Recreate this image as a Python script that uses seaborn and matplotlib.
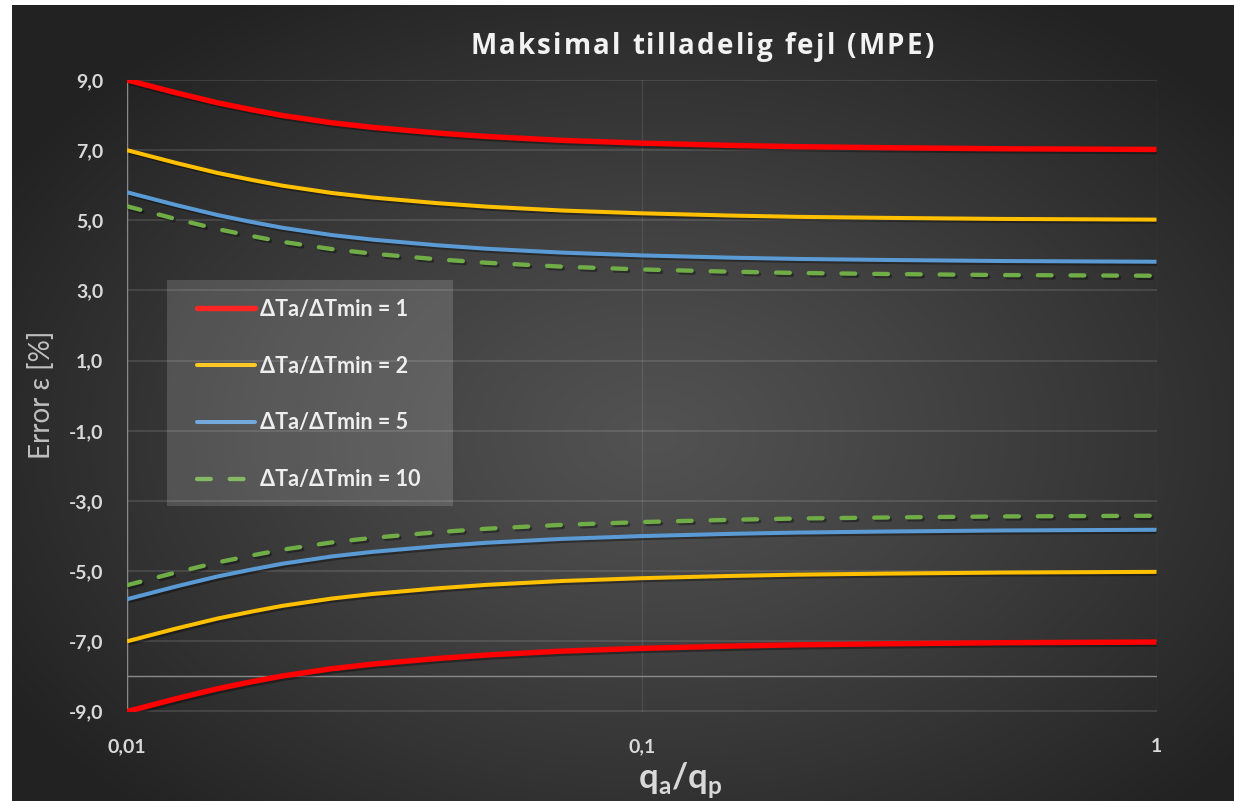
import numpy as np
import pandas as pd
import matplotlib
matplotlib.use("Agg")
import matplotlib.pyplot as plt
import matplotlib.patheffects as pe
from matplotlib.lines import Line2D
from matplotlib.patches import Rectangle
from matplotlib.ticker import FixedLocator, FixedFormatter, NullLocator
import seaborn as sns

# ---------------- data ----------------
q_ratio = [0.01, 0.0125, 0.015, 0.0175, 0.02, 0.025, 0.03, 0.04, 0.05, 0.06,
           0.07, 0.08, 0.1, 0.15, 0.2, 0.3, 0.5, 1.0]
mpe_ratio1 = [9.0, 8.63, 8.35, 8.15, 7.99, 7.78, 7.65, 7.49, 7.39, 7.33,
              7.28, 7.25, 7.20, 7.135, 7.10, 7.07, 7.04, 7.02]
mpe_ratio2 = [7.0, 6.63, 6.35, 6.15, 5.99, 5.78, 5.65, 5.49, 5.39, 5.33,
              5.28, 5.25, 5.20, 5.135, 5.10, 5.07, 5.04, 5.02]
mpe_ratio5 = [5.8, 5.43, 5.15, 4.95, 4.79, 4.58, 4.45, 4.29, 4.19, 4.13,
              4.08, 4.05, 4.00, 3.935, 3.90, 3.87, 3.84, 3.82]
mpe_ratio10 = [5.4, 5.03, 4.75, 4.55, 4.39, 4.18, 4.05, 3.89, 3.79, 3.73,
               3.68, 3.65, 3.60, 3.535, 3.50, 3.47, 3.44, 3.42]
series_labels = ["ΔTa/ΔTmin = 1", "ΔTa/ΔTmin = 2", "ΔTa/ΔTmin = 5", "ΔTa/ΔTmin = 10"]
y_ticks = [9, 7, 5, 3, 1, -1, -3, -5, -7, -9]
y_ticklabels = ["9,0", "7,0", "5,0", "3,0", "1,0", "-1,0", "-3,0", "-5,0", "-7,0", "-9,0"]
x_ticks = [0.01, 0.1, 1]
x_ticklabels = ["0,01", "0,1", "1"]
title = "Maksimal tilladelig fejl (MPE)"
ylabel = "Error ε [%]"
xlabel = r"q$_\mathregular{a}$/q$_\mathregular{p}$"

colors = ["#FF0000", "#FFC000", "#5B9BD5", "#70AD47"]
widths = [3.9, 2.9, 2.9, 3.1]
styles = ["-", "-", "-", (0, (3.2, 4.4))]

sns.set_theme(style="dark")
plt.rcParams["font.family"] = ["Lato", "DejaVu Sans"]

W, H = 1234, 801
fig = plt.figure(figsize=(W / 100, H / 100), dpi=100)
fig.patch.set_facecolor("white")

# background radial gradient
bg = fig.add_axes([12 / W, 0, 1 - 12 / W, 1 - 5 / H], zorder=-10)
gh, gw = 796, 1222
yy, xx = np.mgrid[0:gh, 0:gw]
cx, cy = 640, 430
r = np.sqrt(((xx - cx) / (gw * 0.62)) ** 2 + ((yy - cy) / (gh * 0.65)) ** 2)
r = np.clip(r, 0, 1) ** 1.15
val = (82 - (82 - 34) * r) / 255.0
img = np.dstack([val, val, val])
bg.imshow(img, aspect="auto", interpolation="bilinear", extent=[0, 1, 0, 1])
bg.set_axis_off()

ax = fig.add_axes([127 / W, 1 - 711.5 / H, (1156.5 - 127) / W, (711.5 - 80) / H])
ax.set_facecolor("none")

shadow = [pe.SimpleLineShadow(offset=(1.5, -1.5), shadow_color="black", alpha=0.35), pe.Normal()]

all_series = [mpe_ratio1, mpe_ratio2, mpe_ratio5, mpe_ratio10]
handles = []
for vals, c, lw, ls, lab in zip(all_series, colors, widths, styles, series_labels):
    df = pd.DataFrame({"q": q_ratio, "up": vals, "low": [-v for v in vals]})
    for col in ["up", "low"]:
        sns.lineplot(data=df, x="q", y=col, ax=ax, color=c, linewidth=lw,
                     linestyle=ls, dash_capstyle="round", solid_capstyle="butt",
                     solid_joinstyle="round", path_effects=shadow, zorder=5, legend=False)
    handles.append(Line2D([], [], color=c, linewidth=lw, linestyle=ls,
                          dash_capstyle="round", label=lab))

ax.set_xscale("log")
ax.set_xlim(0.01, 1)
ax.set_ylim(-9, 9)

ax.xaxis.set_major_locator(FixedLocator(x_ticks))
ax.xaxis.set_major_formatter(FixedFormatter(x_ticklabels))
ax.xaxis.set_minor_locator(NullLocator())
ax.yaxis.set_major_locator(FixedLocator(y_ticks))
ax.yaxis.set_major_formatter(FixedFormatter(y_ticklabels))
ax.yaxis.set_minor_locator(NullLocator())

ax.grid(True, axis="y", color="#ffffff", alpha=0.13, linewidth=1.2, zorder=0)
ax.grid(True, axis="x", color="#ffffff", alpha=0.09, linewidth=1.0, zorder=0)
for s in ax.spines.values():
    s.set_visible(False)
ax.axvline(0.01, color="#8a8a8a", linewidth=1.0, zorder=1)
ax.axhline(-8, color="#8a8a8a", linewidth=1.0, zorder=1)

ax.tick_params(axis="both", length=0, colors="#d9d9d9")
ax.tick_params(axis="y", pad=17, labelsize=14)
ax.tick_params(axis="x", pad=19, labelsize=14)
for t in ax.get_xticklabels() + ax.get_yticklabels():
    t.set_fontweight("bold")
    t.set_color("#d9d9d9")
ax.set_xlabel("")
ax.set_ylabel("")

# letter-spaced title
renderer = fig.canvas.get_renderer()
tkw = dict(fontsize=20, fontweight="bold", color="#f2f2f2", family=["Open Sans", "DejaVu Sans"])

def _w(s):
    t = fig.text(0, 0, s, **tkw)
    w = t.get_window_extent(renderer).width
    t.remove()
    return w

spacing = 2.2
bar_w = _w("|")
total = _w(title) + spacing * (len(title) - 1)
x0 = 702 - total / 2
for i, ch in enumerate(title):
    if ch == " ":
        continue
    xi = x0 + (_w(title[:i] + "|") - bar_w if i > 0 else 0) + spacing * i
    fig.text(xi / W, 1 - 47 / H, ch, ha="left", va="center", **tkw)

fig.text(41 / W, 1 - 395 / H, ylabel, ha="center", va="center", rotation=90,
         fontsize=20, color="#bfbfbf")
fig.text(680 / W, 1 - 780 / H, xlabel, ha="center", va="center", fontsize=25,
         fontweight="bold", color="#d9d9d9")

# legend: translucent box + frameless legend
fig.patches.append(Rectangle((167 / W, 1 - 506 / H), (453 - 167) / W, (506 - 280) / H,
                             transform=fig.transFigure, facecolor="white", alpha=0.15,
                             edgecolor="none", zorder=8))
leg = ax.legend(handles=handles, loc="upper left",
                bbox_to_anchor=(197 / W, 1 - 299 / H), bbox_transform=fig.transFigure,
                frameon=False, fontsize=15.5, labelspacing=1.66,
                handlelength=2.7, handletextpad=0.22, borderpad=0, borderaxespad=0)
for t in leg.get_texts():
    t.set_color("#ececec")
    t.set_fontweight("bold")
leg.set_zorder(10)

fig.savefig("out.png", dpi=100, facecolor=fig.get_facecolor())
